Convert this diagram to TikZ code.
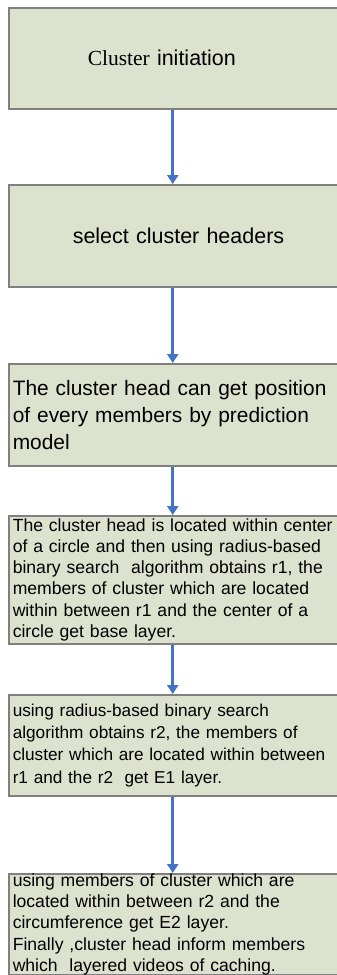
\documentclass[tikz,border=0pt]{standalone}
\usepackage{fontspec}
\setmainfont{Liberation Sans}
\newfontfamily\timesfont{Liberation Serif}
\usetikzlibrary{arrows.meta}
\definecolor{boxfill}{RGB}{221,226,207}
\definecolor{boxline}{RGB}{128,128,128}
\definecolor{arrowblue}{RGB}{68,114,196}
\tikzset{
  flowbox/.style={draw=boxline, line width=1.5pt, fill=boxfill, anchor=north west,
    minimum width=340pt, text width=332pt, inner xsep=4pt, inner ysep=0pt, align=left},
  bigtext/.style={font=\fontsize{21.5}{27}\selectfont},
  flowarrow/.style={draw=arrowblue, line width=3pt, -{Triangle[length=9pt,width=11pt]}, shorten >=0pt}
}
\begin{document}
\begin{tikzpicture}[x=1pt,y=-1pt]
\useasboundingbox[fill=white] (0,0) rectangle (337,975);
\node[flowbox, bigtext, minimum height=101pt] (b1) at (8,7)
  {\hspace*{75pt}{\timesfont Cluster} initiation};
\node[flowbox, bigtext, minimum height=102pt] (b2) at (8,184)
  {\hspace*{60pt}select cluster headers};
\node[flowbox, font=\fontsize{20.9}{27}\selectfont, minimum height=102pt] (b3) at (8,363)
  {The cluster head can get position\\of every members by prediction\\model};
\node[flowbox, font=\fontsize{17.6}{21.3}\selectfont, minimum height=128pt] (b4) at (8,515)
  {The cluster head is located within center\\of a circle and then using radius-based\\binary search~ algorithm obtains r1, the\\members of cluster which are located\\within between r1 and the center of a\\circle get base layer.};
\node[flowbox, font=\fontsize{17.2}{22.3}\selectfont, minimum height=101pt] (b5) at (8,694)
  {using radius-based binary search\\algorithm obtains r2, the members of\\cluster which are located within between\\r1 and the r2~ get E1 layer.};
\node[flowbox, font=\fontsize{17.6}{21.2}\selectfont, minimum height=101pt] (b6) at (8,873)
  {using members of cluster which are\\located within between r2 and the\\circumference get E2 layer.\\Finally ,cluster head inform members\\which~ layered videos of caching.};
\foreach \a/\b in {b1/b2,b2/b3,b3/b4,b4/b5,b5/b6}
  \draw[flowarrow] ([xshift=-6pt]\a.south) -- ([xshift=-6pt]\b.north);
\end{tikzpicture}
\end{document}
